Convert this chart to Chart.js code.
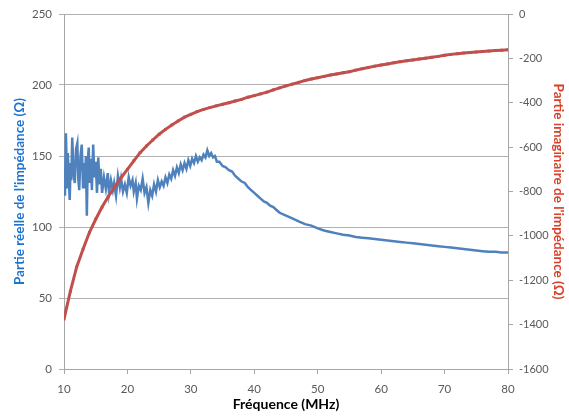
<!DOCTYPE html>
<html>
<head>
<meta charset="utf-8">
<script src="https://cdn.jsdelivr.net/npm/chart.js@4.4.0/dist/chart.umd.min.js"></script>
<style>
  html, body { margin: 0; padding: 0; background: #fff; }
  #wrap { width: 569px; height: 416px; }
</style>
</head>
<body>
<div id="wrap"><canvas id="impChart" width="569" height="416"></canvas></div>
<script>
// Real part (left axis), noisy at low frequency
const reelFreq = [
  10.0, 10.15, 10.3, 10.5, 10.6, 10.75, 10.9, 11.05, 11.15, 11.3,
  11.5, 11.7, 11.9, 12.1, 12.25, 12.4, 12.6, 12.8, 13.0, 13.15,
  13.3, 13.45, 13.6, 13.75, 13.9, 14.05, 14.2, 14.4, 14.6, 14.8,
  15.0, 15.2, 15.4, 15.6, 15.8, 16.0, 16.3, 16.6, 16.9, 17.1,
  17.4, 17.7, 17.9, 18.2, 18.5, 18.8, 19.0, 19.3, 19.6, 19.9,
  20.2, 20.5, 20.8, 21.0, 21.3, 21.5, 21.8, 22.1, 22.4, 22.7,
  23.0, 23.3, 23.6, 23.9, 24.2, 24.5, 24.8, 25.1, 25.4, 25.7,
  26.0, 26.3, 26.6, 26.9, 27.2, 27.5, 27.8, 28.1, 28.4, 28.7,
  29.0, 29.3, 29.6, 29.9, 30.2, 30.5, 30.8, 31.1, 31.4, 31.7,
  32.0, 32.3, 32.6, 32.9, 33.2, 33.5, 33.8, 34.1, 34.5, 35.0,
  35.5, 36.0, 36.5, 37.0, 37.5, 38.0, 38.5, 39.0, 39.5, 40.0,
  40.5, 41.0, 41.5, 42.0, 42.5, 43.0, 43.5, 44, 45, 46,
  47, 48, 49, 50, 51, 52, 53, 54, 55, 56,
  57, 58, 59, 60, 61, 62, 63, 64, 65, 66,
  67, 68, 69, 70, 71, 72, 73, 74, 75, 76,
  77, 78, 79, 80
];
const reelVals = [
  140, 122, 166, 128, 152, 135, 119, 145, 133, 163,
  138, 131, 155, 159, 134, 126, 150, 158, 128, 145,
  132, 150, 108, 147, 156, 131, 148, 126, 158, 135,
  146, 124, 149, 130, 141, 124, 135, 127, 138, 124,
  133, 126, 131, 122, 136, 128, 134, 125, 130, 124,
  135, 129, 133, 125, 131, 120, 129, 126, 134, 124,
  128, 117, 126, 122, 130, 125, 133, 128, 132, 129,
  135, 131, 137, 134, 140, 136, 142, 138, 144, 140,
  145, 141, 147, 143, 148, 145, 150, 146, 149, 147,
  151, 149, 154, 150, 152, 149, 150, 146, 146, 143,
  142, 140, 139, 136, 134, 132, 131, 128, 126, 124,
  122, 120, 118, 117, 115, 114, 112, 110, 108, 106,
  104, 102, 101, 99, 97.5, 96.5, 95.5, 94.5, 94, 93,
  92.5, 92, 91.5, 91, 90.5, 90, 89.5, 89, 88.5, 88,
  87.5, 87, 86.5, 86, 85.5, 85, 84.5, 84, 83.5, 83,
  82.5, 82.5, 82, 82
];

// Imaginary part (right axis)
const imagFreq = [
  10, 11, 12, 13, 14, 15, 16, 17, 18, 19, 20, 21, 22, 23, 24, 25, 26, 27, 28, 29,
  30, 31, 32, 33, 34, 35, 36, 37, 38, 39, 40, 41, 42, 43, 44, 45, 46, 47, 48, 49,
  50, 51, 52, 53, 54, 55, 56, 57, 58, 59, 60, 61, 62, 63, 64, 65, 66, 67, 68, 69,
  70, 71, 72, 73, 74, 75, 76, 77, 78, 79, 80
];
const imagVals = [
  -1375, -1250, -1140, -1060, -985, -925, -870, -822, -778, -738,
  -700, -662, -625, -595, -568, -542, -520, -500, -482, -465,
  -452, -440, -430, -422, -414, -407, -400, -392, -385, -375,
  -368, -360, -352, -342, -333, -324, -316, -308, -300, -293,
  -287, -281, -275, -270, -265, -260, -253, -247, -241, -235,
  -230, -225, -220, -215, -211, -207, -203, -199, -195, -191,
  -186, -182, -179, -176, -173, -171, -169, -167, -165, -163, -161
];

const xTicks = [10, 20, 30, 40, 50, 60, 70, 80];
const leftTicks = [0, 50, 100, 150, 200, 250];
const rightTicks = [-1600, -1400, -1200, -1000, -800, -600, -400, -200, 0];

const tickFont = { family: 'Lato', size: 11 };
const titleFont = { family: 'Lato', size: 13.5, weight: 'bold' };

new Chart(document.getElementById('impChart'), {
  type: 'line',
  data: {
    datasets: [{
      label: 'Partie imaginaire',
      data: imagFreq.map((f, i) => ({ x: f, y: imagVals[i] })),
      yAxisID: 'yImag',
      borderColor: '#C0504D',
      backgroundColor: '#C0504D',
      borderWidth: 3,
      pointStyle: 'rect',
      pointRadius: 2,
      pointBorderWidth: 0,
      tension: 0,
      order: 0
    }, {
      label: 'Partie réelle',
      data: reelFreq.map((f, i) => ({ x: f, y: reelVals[i] })),
      yAxisID: 'yReel',
      borderColor: '#4F81BD',
      borderWidth: 2.5,
      pointRadius: 0,
      tension: 0,
      order: 1
    }]
  },
  options: {
    responsive: false,
    animation: false,
    layout: { padding: { top: 14, left: 12, right: 1, bottom: 3 } },
    plugins: {
      legend: { display: false },
      tooltip: { enabled: false }
    },
    scales: {
      x: {
        type: 'linear',
        min: 10,
        max: 80,
        afterBuildTicks: s => { s.ticks = xTicks.map(v => ({ value: v })); },
        afterFit: s => { s.height = 44; },
        grid: { drawOnChartArea: false, color: '#A6A6A6', tickLength: 5 },
        border: { color: '#A6A6A6' },
        ticks: { font: { family: 'Lato', size: 11.5 }, color: '#595959', padding: 8, maxRotation: 0 },
        title: { display: true, text: 'Fréquence (MHz)', font: { family: 'Lato', size: 14, weight: 'bold' }, color: '#000', padding: { top: 0, bottom: 0 } }
      },
      yReel: {
        position: 'left',
        min: 0,
        max: 250,
        afterBuildTicks: s => { s.ticks = leftTicks.map(v => ({ value: v })); },
        afterFit: s => { s.width = 52; },
        grid: { color: '#B0B0B0', tickLength: 5 },
        border: { color: '#A6A6A6' },
        ticks: { font: { family: 'Lato', size: 11.5 }, color: '#595959', padding: 7, callback: v => String(v) },
        title: { display: true, text: "Partie réelle de l'impédance (Ω)", font: titleFont, color: '#1F74D0', padding: { top: 0, bottom: 2 } }
      },
      yImag: {
        position: 'right',
        min: -1600,
        max: 0,
        afterBuildTicks: s => { s.ticks = rightTicks.map(v => ({ value: v })); },
        afterFit: s => { s.width = 60; },
        grid: { drawOnChartArea: false, color: '#A6A6A6', tickLength: 5 },
        border: { color: '#A6A6A6' },
        ticks: { font: tickFont, color: '#595959', padding: 6, callback: v => String(v) },
        title: { display: true, text: "Partie imaginaire de l'impédance (Ω)", font: titleFont, color: '#D9402A', padding: { top: 2, bottom: 0 } }
      }
    }
  }
});
</script>
</body>
</html>
